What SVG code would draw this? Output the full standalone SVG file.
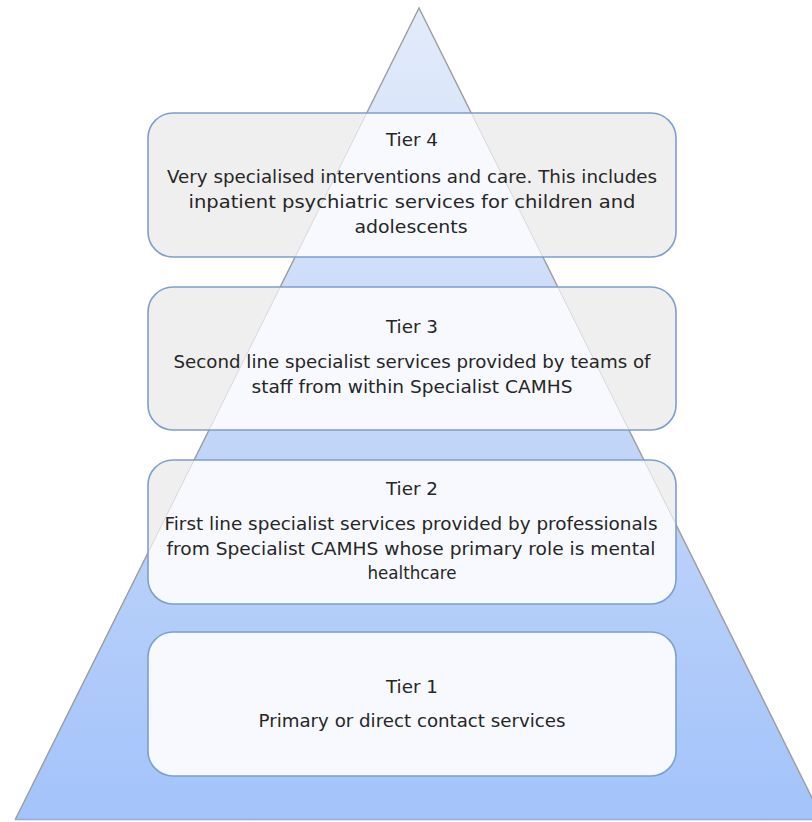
<svg xmlns="http://www.w3.org/2000/svg" width="812" height="822" viewBox="0 0 812 822">
<defs>
<linearGradient id="tri" x1="0" y1="8" x2="0" y2="820" gradientUnits="userSpaceOnUse">
<stop offset="0" stop-color="#e2ebfa"/>
<stop offset="0.5" stop-color="#c4d7f9"/>
<stop offset="1" stop-color="#a3c3fa"/>
</linearGradient>
<clipPath id="boxclip">
<rect x="148" y="113" width="528" height="144" rx="25"/>
<rect x="148" y="287" width="528" height="143" rx="25"/>
<rect x="148" y="460" width="528" height="144" rx="25"/>
<rect x="148" y="632" width="528" height="144" rx="25"/>
</clipPath>
<style>
.box{fill:#efefef;stroke:none}
.edge{fill:none;stroke:#7c9fd0;stroke-width:1.6}
.t{font-family:"DejaVu Sans",sans-serif;font-size:17px;fill:#262626;text-anchor:middle}
</style>
</defs>
<rect width="812" height="822" fill="#ffffff"/>
<g id="pyramid">
<polygon points="419,8 15,820 823,820" fill="url(#tri)"/>
<polyline points="15,820 419,8 823,820" fill="none" stroke="#9c9c9c" stroke-width="1.4"/>
<line x1="15" y1="819.5" x2="812" y2="819.5" stroke="#8daee6" stroke-width="1.5"/>
</g>
<g id="box-fills">
<rect class="box" x="148" y="113" width="528" height="144" rx="25"/>
<rect class="box" x="148" y="287" width="528" height="143" rx="25"/>
<rect class="box" x="148" y="460" width="528" height="144" rx="25"/>
<rect class="box" x="148" y="632" width="528" height="144" rx="25"/>
<polygon points="419,8 15,820 823,820" fill="#f7f9fe" clip-path="url(#boxclip)"/>
<polyline points="15,820 419,8 823,820" fill="none" stroke="#d8d8d8" stroke-width="1" clip-path="url(#boxclip)"/>
</g>
<g id="tier4">
<rect class="edge" x="148" y="113" width="528" height="144" rx="25"/>
<text class="t" x="412" y="146" textLength="52" lengthAdjust="spacingAndGlyphs">Tier 4</text>
<text class="t" x="412" y="183" textLength="490" lengthAdjust="spacingAndGlyphs">Very specialised interventions and care. This includes</text>
<text class="t" x="412" y="208" textLength="447" lengthAdjust="spacingAndGlyphs">inpatient psychiatric services for children and</text>
<text class="t" x="411" y="233" textLength="113" lengthAdjust="spacingAndGlyphs">adolescents</text>
</g>
<g id="tier3">
<rect class="edge" x="148" y="287" width="528" height="143" rx="25"/>
<text class="t" x="412" y="333" textLength="52" lengthAdjust="spacingAndGlyphs">Tier 3</text>
<text class="t" x="412" y="368" textLength="477" lengthAdjust="spacingAndGlyphs">Second line specialist services provided by teams of</text>
<text class="t" x="412" y="393" textLength="321" lengthAdjust="spacingAndGlyphs">staff from within Specialist CAMHS</text>
</g>
<g id="tier2">
<rect class="edge" x="148" y="460" width="528" height="144" rx="25"/>
<text class="t" x="412" y="495" textLength="52" lengthAdjust="spacingAndGlyphs">Tier 2</text>
<text class="t" x="411" y="530" textLength="493" lengthAdjust="spacingAndGlyphs">First line specialist services provided by professionals</text>
<text class="t" x="411" y="555" textLength="489" lengthAdjust="spacingAndGlyphs">from Specialist CAMHS whose primary role is mental</text>
<text class="t" x="412" y="579" textLength="89" lengthAdjust="spacingAndGlyphs">healthcare</text>
</g>
<g id="tier1">
<rect class="edge" x="148" y="632" width="528" height="144" rx="25"/>
<text class="t" x="412" y="693" textLength="52" lengthAdjust="spacingAndGlyphs">Tier 1</text>
<text class="t" x="412" y="727" textLength="307" lengthAdjust="spacingAndGlyphs">Primary or direct contact services</text>
</g>
<g id="connectors"/>
</svg>
